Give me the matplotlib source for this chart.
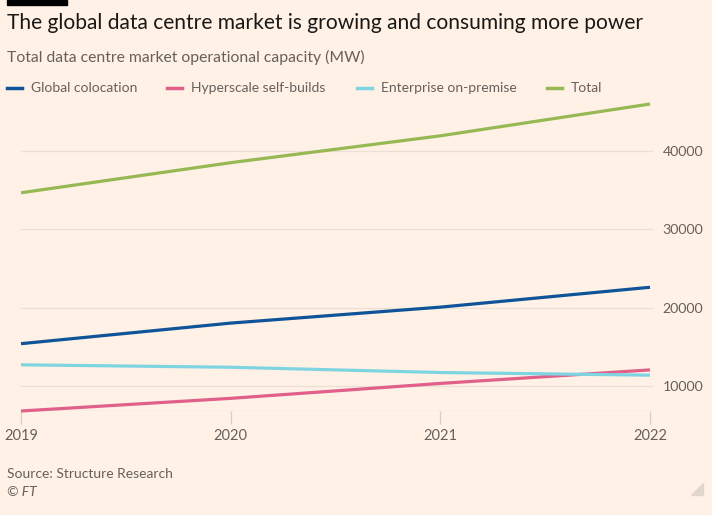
import matplotlib.pyplot as plt
from matplotlib.patches import Rectangle, Polygon

years = [2019, 2020, 2021, 2022]
colocation = [15440, 18060, 20090, 22620]
hyperscale = [6870, 8480, 10380, 12100]
enterprise = [12750, 12440, 11770, 11430]
total = [34650, 38480, 41900, 45950]
series_names = ["Global colocation", "Hyperscale self-builds", "Enterprise on-premise", "Total"]
series_colors = ["#0f5499", "#e0608a", "#7fd4e2", "#96b953"]
yticks = [10000, 20000, 30000, 40000]

BG = "#fff1e5"
TXT = "#66605c"
FONT = "Lato"
plt.rcParams["font.family"] = [FONT, "DejaVu Sans"]

fig = plt.figure(figsize=(7.12, 5.15), dpi=100, facecolor=BG)
ax = fig.add_axes([21 / 712, 1 - 411 / 515, (650 - 21) / 712, (411 - 104) / 515])
ax.set_facecolor(BG)

for vals, c in zip([colocation, hyperscale, enterprise, total], series_colors):
    ax.plot(years, vals, color=c, linewidth=2.3, solid_capstyle="butt", clip_on=False, zorder=3)

ax.set_xlim(years[0], years[-1])
ax.set_ylim(6870, 45950)
for s in ax.spines.values():
    s.set_visible(False)
ax.yaxis.tick_right()
ax.set_yticks(yticks)
ax.set_yticklabels([str(v) for v in yticks], color=TXT, fontsize=10.2)
ax.tick_params(axis="y", length=0, pad=9)
for v in yticks:
    ax.axhline(v, color="#ebe0d6", linewidth=0.9, zorder=1, xmax=1.003, clip_on=False)
ax.axhline(6870, color="#d6ccc2", linewidth=0.9, zorder=2)
ax.set_xticks(years)
ax.set_xticklabels([str(y) for y in years], color=TXT, fontsize=10.5)
ax.tick_params(axis="x", length=9, color="#d6ccc2", width=0.9, pad=4)

# title block
fig.patches.append(Rectangle((7 / 712, 1 - 5 / 515), 60 / 712, 5 / 515, transform=fig.transFigure, color="black"))
fig.text(7 / 712, 1 - 23 / 515, "The global data centre market is growing and consuming more power",
         fontsize=15.1, color="#1a1816", va="center")
fig.text(7 / 712, 1 - 57 / 515, "Total data centre market operational capacity (MW)",
         fontsize=11.3, color=TXT, va="center")

# legend
leg_x = [7, 167, 357, 547]
for x, name, c in zip(leg_x, series_names, series_colors):
    fig.lines.append(plt.Line2D([x / 712, (x + 15) / 712], [1 - 88 / 515] * 2, color=c,
                                linewidth=2.5, transform=fig.transFigure))
    fig.text((x + 24) / 712, 1 - 88 / 515, name, fontsize=10, color=TXT, va="center")

fig.text(7 / 712, 1 - 474 / 515, "Source: Structure Research", fontsize=10, color=TXT, va="center")
fig.text(7 / 712, 1 - 492 / 515, "© FT", fontsize=10, color=TXT, va="center", style="italic")
fig.patches.append(Polygon([(703 / 712, 1 - 483 / 515), (703 / 712, 1 - 495 / 515), (691 / 712, 1 - 495 / 515)],
                           closed=True, transform=fig.transFigure, color="#e0d6cc"))

fig.savefig("out.png", dpi=100, facecolor=BG)
